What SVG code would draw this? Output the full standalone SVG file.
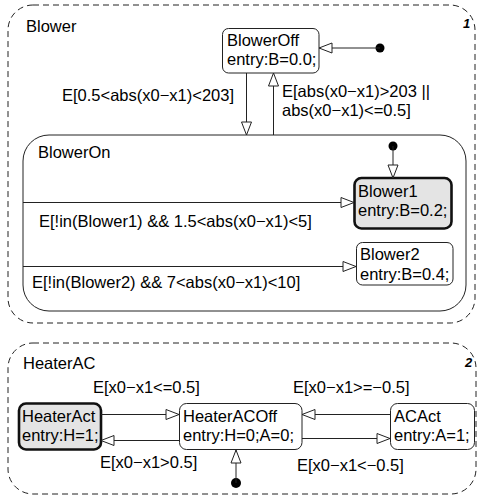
<svg xmlns="http://www.w3.org/2000/svg" width="482" height="500" viewBox="0 0 482 500">
<style>
text{font-family:"Liberation Sans",Arial,sans-serif;font-size:16.5px;fill:#000}
.num{font-weight:bold;font-style:italic;font-size:13px}
.region{fill:none;stroke:#222;stroke-width:1;stroke-dasharray:6 4}
.state{fill:#fff;stroke:#222;stroke-width:1}
.active{fill:#e4e4e4;stroke:#111;stroke-width:2.6}
.tr{fill:none;stroke:#222;stroke-width:1;marker-end:url(#ah)}
.dot{fill:#000}
</style>
<defs>
<marker id="ah" markerUnits="userSpaceOnUse" markerWidth="16" markerHeight="12" viewBox="0 0 16 12" refX="14.5" refY="6" orient="auto">
<path d="M1.5,1 L14.5,6 L1.5,11 Z" fill="#fff" stroke="#222" stroke-width="1"/>
</marker>
</defs>
<g id="Blower">
<rect class="region" x="8" y="5" width="467" height="318" rx="25"/>
<text x="26" y="32">Blower</text>
<text class="num" x="463" y="28">1</text>
</g>
<g id="BlowerOff">
<rect class="state" x="222.5" y="28.5" width="96.5" height="44.5" rx="6"/>
<text x="227" y="46">BlowerOff</text>
<text x="227" y="65">entry:B=0.0;</text>
</g>
<g id="BlowerOn">
<rect class="state" x="23" y="135" width="443" height="176" rx="26"/>
<text x="38" y="158">BlowerOn</text>
</g>
<g id="Blower1">
<rect class="active" x="354.5" y="178" width="97" height="50.5" rx="7"/>
<text x="358" y="197">Blower1</text>
<text x="358" y="216">entry:B=0.2;</text>
</g>
<g id="Blower2">
<rect class="state" x="356.5" y="242.5" width="96.5" height="42.5" rx="6"/>
<text x="360" y="260">Blower2</text>
<text x="360" y="280">entry:B=0.4;</text>
</g>
<g id="HeaterAC">
<rect class="region" x="8" y="343" width="468" height="151" rx="25"/>
<text x="23" y="369">HeaterAC</text>
<text class="num" x="465" y="367">2</text>
</g>
<g id="HeaterAct">
<rect class="active" x="19" y="403.5" width="82" height="46" rx="7"/>
<text x="22" y="422">HeaterAct</text>
<text x="22" y="441">entry:H=1;</text>
</g>
<g id="HeaterACOff">
<rect class="state" x="179.5" y="403.5" width="122.5" height="46" rx="7"/>
<text x="183" y="422">HeaterACOff</text>
<text x="183" y="441">entry:H=0;A=0;</text>
</g>
<g id="ACAct">
<rect class="state" x="390.5" y="403.5" width="84" height="46" rx="7"/>
<text x="394" y="422">ACAct</text>
<text x="394" y="441">entry:A=1;</text>
</g>
<g id="connectors">
<circle class="dot" cx="380" cy="48" r="4.5"/>
<path class="tr" d="M380,48 H319"/>
<path class="tr" d="M246.5,73 V135"/>
<path class="tr" d="M273.5,135 V73"/>
<text x="62" y="101">E[0.5&lt;abs(x0−x1)&lt;203]</text>
<text x="282" y="97">E[abs(x0−x1)&gt;203 ||</text>
<text x="282" y="116">abs(x0−x1)&lt;=0.5]</text>
<circle class="dot" cx="393" cy="146" r="4.5"/>
<path class="tr" d="M393,146 V178"/>
<path class="tr" d="M23,202.5 H354"/>
<text x="39" y="227">E[!in(Blower1) &amp;&amp; 1.5&lt;abs(x0−x1)&lt;5]</text>
<path class="tr" d="M23,266.5 H356"/>
<text x="32" y="288">E[!in(Blower2) &amp;&amp; 7&lt;abs(x0−x1)&lt;10]</text>
<path class="tr" d="M101,414.5 H179"/>
<path class="tr" d="M179,440.5 H101"/>
<path class="tr" d="M390,414.5 H302"/>
<path class="tr" d="M302,438.5 H390"/>
<circle class="dot" cx="236" cy="483" r="5"/>
<path class="tr" d="M236,483 V450"/>
<text x="93" y="393">E[x0−x1&lt;=0.5]</text>
<text x="293" y="393">E[x0−x1&gt;=−0.5]</text>
<text x="100" y="468">E[x0−x1&gt;0.5]</text>
<text x="297" y="471">E[x0−x1&lt;−0.5]</text>
</g>
</svg>
